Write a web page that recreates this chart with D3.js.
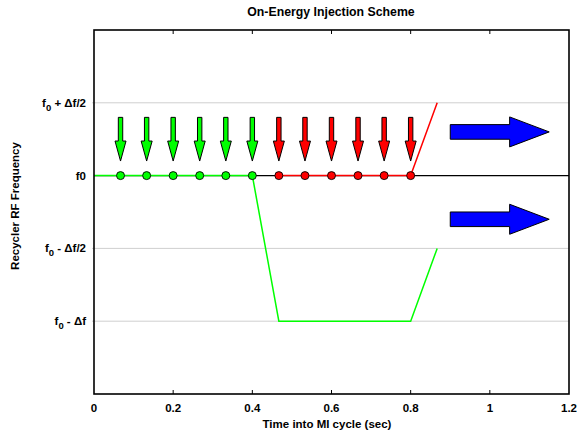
<!DOCTYPE html>
<html>
<head>
<meta charset="utf-8">
<script src="https://cdn.jsdelivr.net/npm/d3@7"></script>
<style>
  body { margin: 0; background: #fff; }
  svg { display: block; font-family: "Liberation Sans", Arial, Helvetica, sans-serif; }
</style>
</head>
<body>
<svg id="chart" width="577" height="433"></svg>
<script>
// Time axis ticks (sec)
const xTicks = [0, 0.2, 0.4, 0.6, 0.8, 1, 1.2];
// Frequency offsets from f0, in units of Δf, with their labels
const yTicks = [0.5, 0, -0.5, -1];
const yTickLabels = [
  ["f", "0", " + Δf/2"],
  ["f0", "", ""],
  ["f", "0", " - Δf/2"],
  ["f", "0", " - Δf"]
];

// Injection times (sec): first batch group (green) and second group (red)
const greenTimes = [0.067, 0.133, 0.2, 0.267, 0.333, 0.4];
const redTimes = [0.467, 0.533, 0.6, 0.667, 0.733, 0.8];

// RF frequency programs [time, offset]
const nominalLine = [[0, 0], [1.2, 0]];
const greenLine = [[0, 0], [0.4, 0], [0.467, -1], [0.8, -1], [0.867, -0.5]];
const redLine = [[0.467, 0], [0.8, 0], [0.867, 0.5]];

// Injection arrows span this frequency range
const injTop = 0.4, injTip = 0.1;
// Extraction arrows: [xStart, xHeadStart, xEnd, yCenter]
const blueArrows = [[0.9, 1.05, 1.15, 0.3], [0.9, 1.05, 1.15, -0.3]];

const svg = d3.select("#chart");
const margin = { left: 94, right: 8, top: 30, bottom: 39 };
const W = 577, H = 433;
const x = d3.scaleLinear().domain([0, 1.2]).range([margin.left, W - margin.right]);
const y = d3.scaleLinear().domain([-1.5, 1]).range([H - margin.bottom, margin.top]);

// Grid lines
svg.append("g").selectAll("line")
  .data(yTicks.filter(d => d !== 0))
  .join("line")
  .attr("x1", x(0) - 2).attr("x2", x(1.2))
  .attr("y1", d => y(d)).attr("y2", d => y(d))
  .attr("stroke", "#cfcfcf").attr("stroke-width", 1);

// Y tick labels
const yl = svg.append("g").selectAll("text")
  .data(yTicks)
  .join("text")
  .attr("x", x(0) - 8)
  .attr("y", d => y(d) + 4)
  .attr("text-anchor", "end")
  .attr("font-size", 11.5)
  .attr("font-weight", "bold");
yl.each(function (d, i) {
  const t = d3.select(this);
  const parts = yTickLabels[i];
  t.append("tspan").text(parts[0]);
  if (parts[1]) t.append("tspan").attr("dy", 4).attr("font-size", 9.5).text(parts[1]);
  if (parts[2]) t.append("tspan").attr("dy", parts[1] ? -4 : 0).text(parts[2]);
});

// Frequency program lines
const line = d3.line().x(d => x(d[0])).y(d => y(d[1]));
svg.append("path").attr("d", line(nominalLine)).attr("fill", "none").attr("stroke", "#000").attr("stroke-width", 1.2);
svg.append("path").attr("d", line(greenLine)).attr("fill", "none").attr("stroke", "#00ff00").attr("stroke-width", 1.5);
svg.append("path").attr("d", line(redLine)).attr("fill", "none").attr("stroke", "#ff0000").attr("stroke-width", 1.5);

// Injection markers
function drawDots(times, color) {
  svg.append("g").selectAll("circle").data(times).join("circle")
    .attr("cx", d => x(d)).attr("cy", y(0)).attr("r", 4)
    .attr("fill", color).attr("stroke", "#000").attr("stroke-width", 0.9);
}
drawDots(greenTimes, "#00ff00");
drawDots(redTimes, "#ff0000");

// Downward injection arrows
function downArrow(cx) {
  const top = y(injTop), tip = y(injTip), headY = tip - 20, sw = 2.2, hw = 5.5;
  return `M${cx - sw},${top} L${cx + sw},${top} L${cx + sw},${headY} L${cx + hw},${headY} L${cx},${tip} L${cx - hw},${headY} L${cx - sw},${headY} Z`;
}
function drawArrows(times, color) {
  svg.append("g").selectAll("path").data(times).join("path")
    .attr("d", d => downArrow(x(d)))
    .attr("fill", color).attr("stroke", "#000").attr("stroke-width", 1);
}
drawArrows(greenTimes, "#00ff00");
drawArrows(redTimes, "#ff0000");

// Extraction arrows
svg.append("g").selectAll("path").data(blueArrows).join("path")
  .attr("d", d => {
    const x0 = x(d[0]), xh = x(d[1]), x1 = x(d[2]), cy = y(d[3]);
    const sh = 7.3, hh = 15;
    return `M${x0},${cy - sh} L${xh},${cy - sh} L${xh},${cy - hh} L${x1},${cy} L${xh},${cy + hh} L${xh},${cy + sh} L${x0},${cy + sh} Z`;
  })
  .attr("fill", "#0000ff").attr("stroke", "#000").attr("stroke-width", 1);

// Frame
svg.append("rect")
  .attr("x", x(0)).attr("y", y(1))
  .attr("width", x(1.2) - x(0)).attr("height", y(-1.5) - y(1))
  .attr("fill", "none").attr("stroke", "#000").attr("stroke-width", 1.6);

// X axis ticks (bottom and mirrored top), pointing inward
const ticks = svg.append("g");
xTicks.slice(1, -1).forEach(v => {
  ticks.append("line").attr("x1", x(v)).attr("x2", x(v)).attr("y1", y(-1.5)).attr("y2", y(-1.5) - 4).attr("stroke", "#000");
  ticks.append("line").attr("x1", x(v)).attr("x2", x(v)).attr("y1", y(1)).attr("y2", y(1) + 4).attr("stroke", "#000");
});
svg.append("g").selectAll("text").data(xTicks).join("text")
  .attr("x", d => x(d)).attr("y", y(-1.5) + 18)
  .attr("text-anchor", "middle").attr("font-size", 11.5).attr("font-weight", "bold")
  .text(d => d3.format("~g")(d));

// Titles
svg.append("text").attr("x", 331).attr("y", 16)
  .attr("text-anchor", "middle").attr("font-size", 12.3).attr("font-weight", "bold")
  .text("On-Energy Injection Scheme");
svg.append("text").attr("x", 327).attr("y", 428)
  .attr("text-anchor", "middle").attr("font-size", 11.5).attr("font-weight", "bold")
  .text("Time into MI cycle (sec)");
svg.append("text")
  .attr("transform", "translate(19,206) rotate(-90)")
  .attr("text-anchor", "middle").attr("font-size", 11.5).attr("font-weight", "bold")
  .text("Recycler RF Frequency");
</script>
</body>
</html>
